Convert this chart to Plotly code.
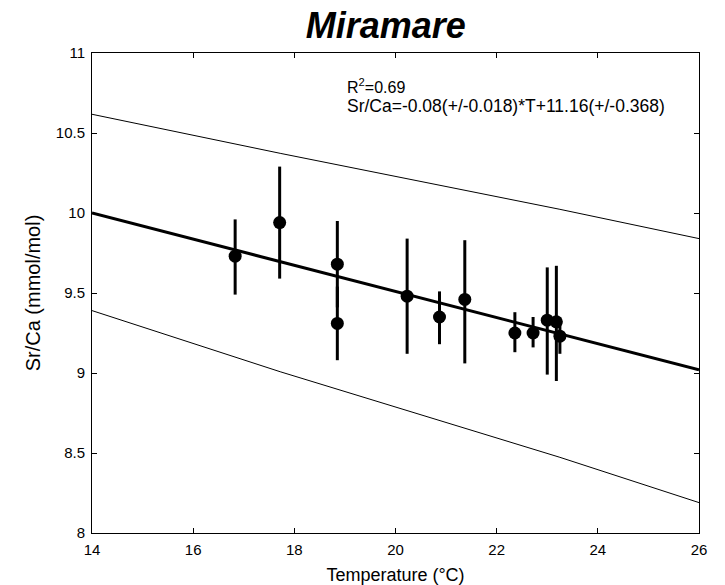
import plotly.graph_objects as go

# Data
temp = [16.83, 17.71, 18.85, 18.85, 20.23, 20.87, 21.37, 22.36, 22.72, 23.00, 23.18, 23.25]
srca = [9.73, 9.94, 9.68, 9.31, 9.48, 9.35, 9.46, 9.25, 9.25, 9.33, 9.32, 9.23]
err_plus = [0.23, 0.35, 0.27, 0.23, 0.36, 0.16, 0.37, 0.13, 0.10, 0.33, 0.35, 0.11]
err_minus = [0.24, 0.35, 0.27, 0.23, 0.36, 0.17, 0.40, 0.12, 0.09, 0.34, 0.37, 0.11]

fit_t = [14, 26]
fit_y = [10.00, 9.02]

band_t = [14, 17.72, 23.25, 26]
band_upper = [10.617, 10.373, 10.023, 9.84]
band_lower = [9.39, 9.008, 8.473, 8.19]

x_ticks = [14, 16, 18, 20, 22, 24, 26]
y_ticks = [8, 8.5, 9, 9.5, 10, 10.5, 11]
y_ticktext = ["8", "8.5", "9", "9.5", "10", "10.5", "11"]

FONT = "Liberation Sans"

fig = go.Figure()
fig.add_trace(go.Scatter(x=band_t, y=band_upper, mode="lines",
                         line=dict(color="black", width=1), showlegend=False))
fig.add_trace(go.Scatter(x=band_t, y=band_lower, mode="lines",
                         line=dict(color="black", width=1), showlegend=False))
fig.add_trace(go.Scatter(x=fit_t, y=fit_y, mode="lines",
                         line=dict(color="black", width=3), showlegend=False))
fig.add_trace(go.Scatter(
    x=temp, y=srca, mode="markers",
    marker=dict(color="black", size=13, line=dict(width=0)),
    error_y=dict(type="data", symmetric=False, array=err_plus, arrayminus=err_minus,
                 width=0, thickness=3, color="black"),
    showlegend=False))

axis_common = dict(showline=True, linecolor="black", linewidth=1, mirror="ticks",
                   ticks="inside", ticklen=5, tickcolor="black", showgrid=False,
                   zeroline=False, ticklabelstandoff=3,
                   tickfont=dict(family=FONT, size=15, color="black"))

fig.update_layout(
    width=725, height=585,
    paper_bgcolor="white", plot_bgcolor="white",
    margin=dict(l=92, r=26, t=53, b=52, autoexpand=False),
    title=dict(text="Miramare", x=0.532, xanchor="center", y=0.957, yanchor="middle",
               font=dict(family=FONT, size=36, color="black", weight="bold", style="italic")),
    xaxis=dict(range=[14, 26], tickvals=x_ticks, ticktext=[str(v) for v in x_ticks],
               title=dict(text="Temperature (°C)", standoff=11,
                          font=dict(family=FONT, size=18, color="black")),
               **axis_common),
    yaxis=dict(range=[8, 11], tickvals=y_ticks, ticktext=y_ticktext,
               title=dict(text="Sr/Ca (mmol/mol)", standoff=9,
                          font=dict(family=FONT, size=20, color="black")),
               **axis_common),
    annotations=[
        dict(text="R<sup>2</sup>=0.69", x=19.0, y=10.795, xref="x", yref="y",
             showarrow=False, xanchor="left", yanchor="middle",
             font=dict(family=FONT, size=16, color="black")),
        dict(text="Sr/Ca=-0.08(+/-0.018)*T+11.16(+/-0.368)", x=19.0, y=10.67,
             xref="x", yref="y", showarrow=False, xanchor="left", yanchor="middle",
             font=dict(family=FONT, size=17.5, color="black")),
    ],
)

fig.write_html("out.html", config={"displayModeBar": False},
               post_script="document.body.style.margin='0';")
